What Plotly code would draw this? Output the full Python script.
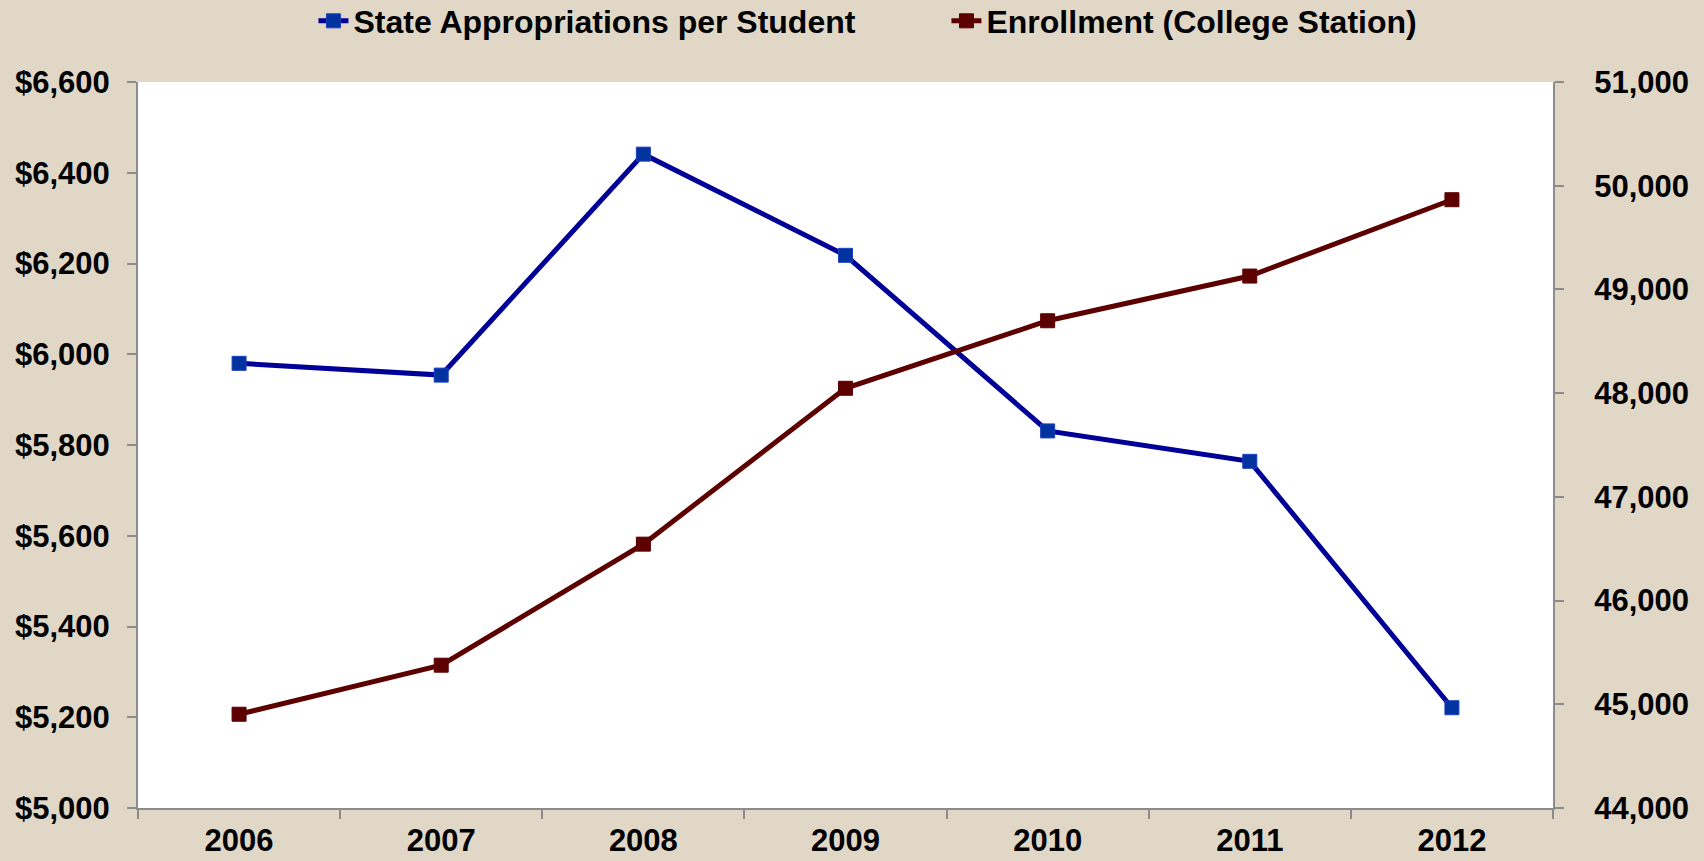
import plotly.graph_objects as go

years = ["2006", "2007", "2008", "2009", "2010", "2011", "2012"]
appropriations_per_student = [5980, 5954, 6441, 6218, 5831, 5764, 5221]
enrollment = [44904, 45377, 46544, 48047, 48698, 49129, 49865]

BG = "#E1D7C6"
AXIS = "#8C8C8C"
FONT = "Liberation Sans, Arial, sans-serif"

fig = go.Figure()
fig.add_trace(go.Scatter(
    x=years, y=appropriations_per_student, name="State Appropriations per Student",
    mode="lines+markers",
    line=dict(color="#000099", width=5),
    marker=dict(symbol="square", size=14, color="#0033A0",
                line=dict(color="#1A3FBF", width=1)),
    yaxis="y",
))
fig.add_trace(go.Scatter(
    x=years, y=enrollment, name="Enrollment (College Station)",
    mode="lines+markers",
    line=dict(color="#5C0000", width=5),
    marker=dict(symbol="square", size=14, color="#5C0000",
                line=dict(color="#5C0000", width=1)),
    yaxis="y2",
))

tick_font = dict(family=FONT, size=31, color="#000000", weight="bold")

fig.update_layout(
    width=1704, height=861,
    margin=dict(l=138, r=151, t=82, b=53, autoexpand=False),
    paper_bgcolor=BG,
    plot_bgcolor="#FFFFFF",
    font=dict(family=FONT, size=31, color="#000000", weight="bold"),
    separators=".,",
    showlegend=True,
    legend=dict(
        orientation="h", x=0.124, xanchor="left", y=1.084, yanchor="middle",
        font=dict(family=FONT, size=32, color="#000000", weight="bold"),
        bgcolor="rgba(0,0,0,0)", traceorder="normal",
        entrywidth=588, entrywidthmode="pixels",
    ),
    xaxis=dict(
        type="category", tickson="boundaries", range=[-0.5, 6.5],
        showline=True, linecolor=AXIS, linewidth=2,
        ticks="outside", ticklen=9, tickcolor=AXIS, tickwidth=2,
        showgrid=False, zeroline=False, tickfont=tick_font,
        ticklabelstandoff=4,
    ),
    yaxis=dict(
        range=[5000, 6600], dtick=200, tickprefix="$", tickformat=",d",
        showline=True, linecolor=AXIS, linewidth=2,
        ticks="outside", ticklen=9, tickcolor=AXIS, tickwidth=2,
        showgrid=False, zeroline=False, tickfont=tick_font,
        ticklabelstandoff=11,
    ),
    yaxis2=dict(
        range=[44000, 51000], dtick=1000, tickformat=",d",
        overlaying="y", side="right",
        showline=True, linecolor=AXIS, linewidth=2,
        ticks="outside", ticklen=9, tickcolor=AXIS, tickwidth=2,
        showgrid=False, zeroline=False, tickfont=tick_font,
        ticklabelstandoff=24,
    ),
)

fig.write_html("out.html")
